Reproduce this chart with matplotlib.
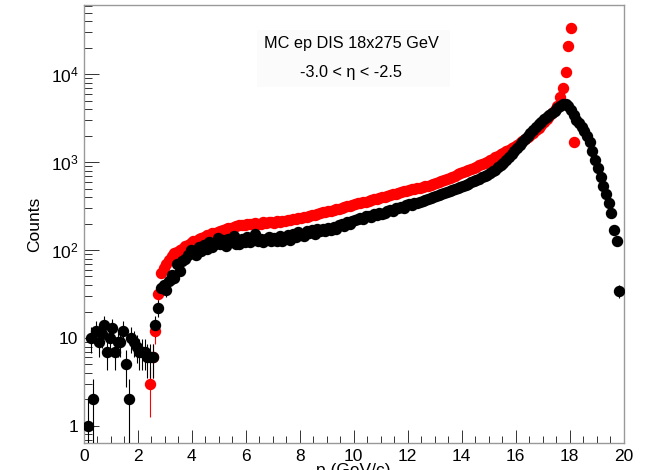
import numpy as np
import matplotlib
matplotlib.use('Agg')
import matplotlib.pyplot as plt
from matplotlib.ticker import FixedLocator, FixedFormatter, MultipleLocator, LogLocator, NullFormatter

# histogram binning: 200 bins of 0.1 GeV/c between 0 and 20
x_lo = 0.0
x_hi = 20.0
n_bins = 200

# counts per bin, 0 = empty bin
black_counts = [
    0, 1, 10, 2, 12, 9, 11, 14, 7, 10,
    13, 7, 9, 9, 12, 5, 2, 10, 9, 8,
    7, 7, 7, 6, 6, 6, 14, 22, 37, 40,
    35, 45, 52, 48, 70, 58, 75, 80, 88, 100,
    95, 88, 108, 98, 115, 102, 122, 108, 118, 138,
    118, 130, 112, 132, 122, 145, 118, 116, 135, 124,
    142, 122, 137, 152, 126, 132, 124, 135, 142, 126,
    137, 128, 145, 125, 136, 148, 131, 152, 140, 160,
    148, 146, 163, 156, 168, 152, 172, 163, 175, 166,
    180, 168, 185, 172, 190, 198, 188, 208, 196, 215,
    218, 227, 232, 226, 242, 246, 236, 258, 248, 264,
    256, 262, 278, 284, 276, 297, 302, 312, 303, 322,
    330, 326, 342, 346, 356, 362, 372, 378, 394, 405,
    410, 422, 432, 447, 458, 470, 480, 490, 507, 520,
    535, 552, 568, 587, 605, 627, 645, 670, 690, 717,
    745, 782, 820, 872, 925, 987, 1050, 1130, 1220, 1320,
    1430, 1560, 1700, 1850, 2000, 2150, 2320, 2500, 2680, 2870,
    3050, 3250, 3450, 3650, 3850, 4100, 4350, 4550, 4550, 4300,
    3900, 3400, 3000, 2750, 2500, 2250, 2000, 1700, 1350, 1060,
    850, 680, 540, 430, 340, 265, 170, 128, 34, 0,
]

red_counts = [
    0, 0, 0, 0, 0, 0, 0, 0, 0, 0,
    0, 0, 0, 0, 0, 0, 0, 0, 0, 0,
    0, 0, 0, 0, 3, 6, 12, 32, 55, 62,
    70, 78, 85, 92, 95, 100, 104, 110, 115, 120,
    125, 128, 133, 138, 142, 148, 150, 155, 158, 162,
    165, 169, 172, 176, 178, 182, 186, 190, 192, 195,
    197, 200, 196, 205, 199, 197, 206, 201, 209, 210,
    205, 213, 209, 216, 214, 221, 217, 226, 228, 233,
    229, 237, 238, 242, 248, 253, 258, 263, 268, 273,
    276, 281, 285, 291, 296, 301, 308, 315, 320, 327,
    332, 338, 343, 350, 356, 363, 368, 377, 382, 391,
    398, 405, 413, 420, 429, 436, 446, 452, 463, 470,
    480, 488, 495, 505, 512, 522, 530, 540, 550, 560,
    575, 590, 605, 620, 640, 660, 680, 700, 725, 750,
    775, 790, 810, 835, 860, 885, 915, 945, 975, 1010,
    1050, 1090, 1130, 1175, 1220, 1270, 1320, 1380, 1440, 1500,
    1570, 1640, 1720, 1810, 1910, 2020, 2150, 2300, 2460, 2640,
    2850, 3080, 3330, 3600, 3900, 4300, 5500, 7000, 10500, 21000,
    33000, 1700, 0, 0, 0, 0, 0, 0, 0, 0,
    0, 0, 0, 0, 0, 0, 0, 0, 0, 0,
]

y_ticks = [1, 10, 100, 1000, 10000]
y_tick_labels = ['1', '10', '$10^{2}$', '$10^{3}$', '$10^{4}$']
x_ticks = [0, 2, 4, 6, 8, 10, 12, 14, 16, 18, 20]

title_lines = ['MC ep DIS 18x275 GeV', '-3.0 < η < -2.5']


def draw_hist(ax, centers, counts, color):
    counts = np.asarray(counts, dtype=float)
    m = counts > 0
    ax.errorbar(centers[m], counts[m], yerr=np.sqrt(counts[m]),
                fmt='o', ms=7.2, color=color, mec=color,
                ecolor=color, elinewidth=0.8, capsize=0, zorder=3)


def make_plot(name):
    plt.rcParams['font.family'] = ['Liberation Sans', 'DejaVu Sans']
    plt.rcParams['mathtext.fontset'] = 'custom'
    plt.rcParams['mathtext.rm'] = 'Liberation Sans'
    plt.rcParams['mathtext.default'] = 'regular'

    fig = plt.figure(figsize=(6.51, 4.70), dpi=100)
    ax = fig.add_axes([84 / 651, 1 - 443 / 470, (623.5 - 84) / 651, (443 - 5) / 470])

    edges = np.linspace(x_lo, x_hi, n_bins + 1)
    centers = 0.5 * (edges[:-1] + edges[1:])

    draw_hist(ax, centers, red_counts, '#ff0000')
    draw_hist(ax, centers, black_counts, '#000000')

    ax.set_yscale('log')
    ax.set_xlim(x_lo, x_hi)
    ax.set_ylim(0.64, 6.1e4)

    ax.xaxis.set_major_locator(FixedLocator(x_ticks))
    ax.xaxis.set_minor_locator(MultipleLocator(0.5))
    ax.yaxis.set_major_locator(FixedLocator(y_ticks))
    ax.yaxis.set_major_formatter(FixedFormatter(y_tick_labels))
    ax.yaxis.set_minor_locator(LogLocator(base=10, subs=np.arange(2, 10)))
    ax.yaxis.set_minor_formatter(NullFormatter())

    ax.tick_params(axis='both', which='both', direction='in', colors='#333333',
                   width=0.7, labelsize=12.5, top=False, right=False)
    ax.tick_params(axis='y', which='major', length=11, pad=4)
    ax.tick_params(axis='y', which='minor', length=5.5)
    ax.tick_params(axis='x', which='major', length=9.5, pad=4)
    ax.tick_params(axis='x', which='minor', length=4.7)
    for lab in ax.get_xticklabels() + ax.get_yticklabels():
        lab.set_color('black')
    for s in ax.spines.values():
        s.set_color('#999999')
        s.set_linewidth(1.0)

    ax.set_ylabel('Counts', fontsize=12.5, labelpad=6)
    # x title sits mostly below the bottom edge of the canvas
    fig.text(0.543, 1 - 463 / 470, 'p (GeV/c)', fontsize=12.5,
             ha='center', va='top')

    # text pave
    box = plt.Rectangle((257 / 651, 1 - 87 / 470), (450 - 257) / 651, (87 - 30) / 470,
                        transform=fig.transFigure, facecolor='#fbfbfb',
                        edgecolor='none', zorder=1)
    fig.patches.append(box)
    fig.text(351 / 651, 1 - 43.5 / 470, title_lines[0], fontsize=11.7,
             ha='center', va='center', zorder=5)
    fig.text(351 / 651, 1 - 72 / 470, title_lines[1], fontsize=11.7,
             ha='center', va='center', zorder=5)

    fig.savefig(name, dpi=100)
    plt.close(fig)


if __name__ == "__main__":
    make_plot('out.png')
